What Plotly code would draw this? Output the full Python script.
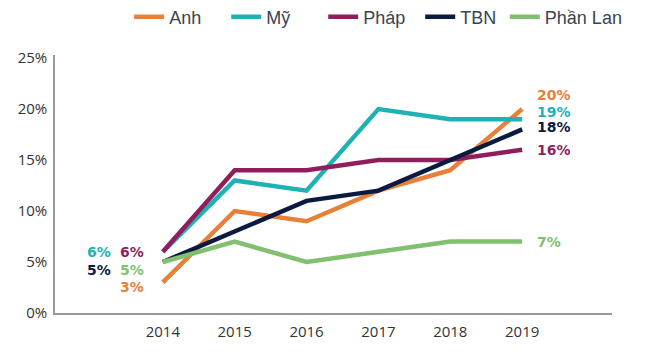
import plotly.graph_objects as go

years = ["2014", "2015", "2016", "2017", "2018", "2019"]
anh = [3, 10, 9, 12, 14, 20]
my = [6, 13, 12, 20, 19, 19]
phap = [6, 14, 14, 15, 15, 16]
tbn = [5, 8, 11, 12, 15, 18]
phanlan = [5, 7, 5, 6, 7, 7]

names = ["Anh", "Mỹ", "Pháp", "TBN", "Phần Lan"]
series = [anh, my, phap, tbn, phanlan]
colors = ["#E8803A", "#1EB2B5", "#8E1F5C", "#0B1A40", "#80C06E"]
legend_ids = ["legend", "legend", "legend", "legend", "legend2"]

# label offsets (px): start labels (xshift, yshift), end labels (xshift, yshift)
start_off = [(-18, -5), (-51, 0), (-18, 0), (-51, -8), (-18, -8)]
end_off = [(14, 14), (14, 7), (14, 0), (14, 2), (14, 0)]

fig = go.Figure()
for n, s, c, lg in zip(names, series, colors, legend_ids):
    fig.add_trace(go.Scatter(x=years, y=s, name=n, mode="lines", legend=lg,
                             line=dict(color=c, width=4.5)))

first_idx = 0
last_idx = len(years) - 1
ann = []
for i, (s, c) in enumerate(zip(series, colors)):
    f = dict(color=c, size=14, family="DejaVu Sans", weight="bold")
    ann.append(dict(xref="x", yref="y", x=first_idx, y=s[0], text=f"{s[0]}%",
                    showarrow=False, xanchor="right", yanchor="middle", borderpad=0,
                    xshift=start_off[i][0], yshift=start_off[i][1], font=f))
    ann.append(dict(xref="x", yref="y", x=last_idx, y=s[-1], text=f"{s[-1]}%",
                    showarrow=False, xanchor="left", yanchor="middle", borderpad=0,
                    xshift=end_off[i][0], yshift=end_off[i][1], font=f))

legfont = dict(family="Liberation Sans", size=18, color="#3A4450")
fig.update_layout(
    width=666, height=353,
    margin=dict(l=55, r=54, t=55, b=40, autoexpand=False),
    plot_bgcolor="white", paper_bgcolor="white",
    annotations=ann,
    legend=dict(orientation="h", xref="container", yref="container",
                x=0.194, xanchor="left", y=0.952, yanchor="middle",
                font=legfont, itemwidth=30, tracegroupgap=0, entrywidth=52),
    legend2=dict(orientation="h", xref="container", yref="container",
                 x=0.758, xanchor="left", y=0.952, yanchor="middle",
                 font=legfont, itemwidth=30, tracegroupgap=0),
    xaxis=dict(type="category", range=[-1.5, 6.25], showgrid=False,
               showline=True, linecolor="#999999", linewidth=1.5,
               ticks="outside", ticklen=4, tickcolor="white",
               tickfont=dict(family="Open Sans", size=15, color="#333333")),
    yaxis=dict(range=[0, 25.3], dtick=5, ticksuffix="%", showgrid=False,
               zeroline=False, showline=True, linecolor="#999999", linewidth=1.5,
               ticks="outside", ticklen=3, tickcolor="white",
               tickfont=dict(family="Open Sans", size=15, color="#333333")),
    showlegend=True,
)

fig.write_html("out.html")
